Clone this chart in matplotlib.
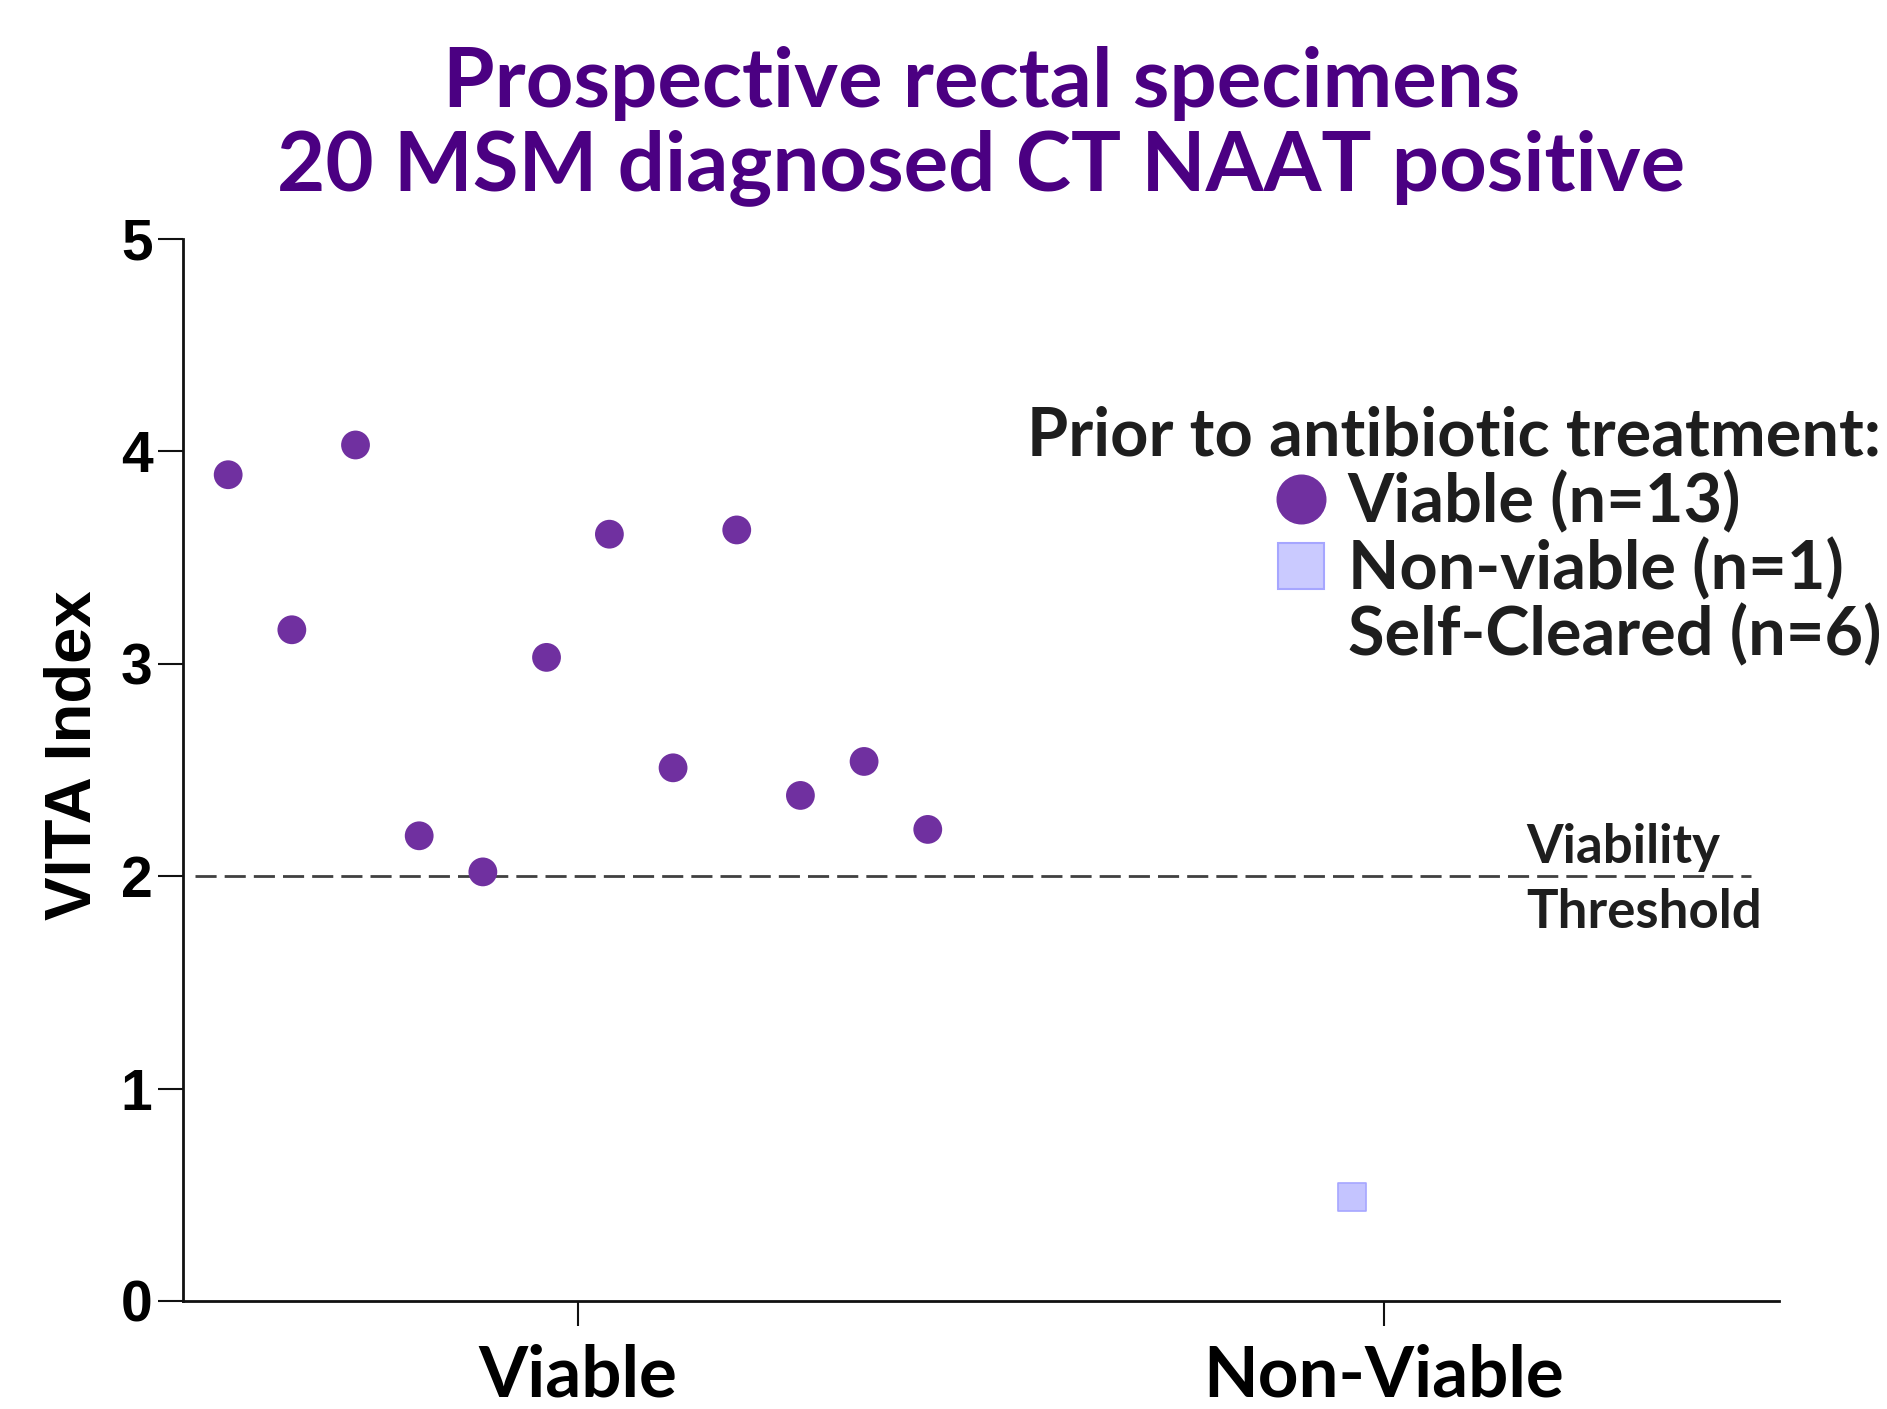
import matplotlib
matplotlib.use('Agg')
import matplotlib.pyplot as plt
from matplotlib.lines import Line2D

# data
viable_x = [-0.434, -0.355, -0.276, -0.197, -0.118, -0.039,
            0.039, 0.118, 0.197, 0.276, 0.355, 0.434]
viable_y = [3.89, 3.16, 4.03, 2.19, 2.02, 3.03,
            3.61, 2.51, 3.63, 2.38, 2.54, 2.22]
nonviable_x = [0.96]
nonviable_y = [0.49]
categories = ['Viable', 'Non-Viable']
yticks = [0, 1, 2, 3, 4, 5]
threshold = 2
legend_labels = ['Viable (n=13)', 'Non-viable (n=1)', 'Self-Cleared (n=6)']

PURPLE = '#7030A0'
LILAC = '#C4C4FF'
LILAC_EDGE = '#A6A6FF'
TITLE = '#4B0082'
INK = '#1E1E1E'
GEO = ['Lato', 'DejaVu Sans']
ARIAL = ['Liberation Sans', 'DejaVu Sans']


def make_plot(out_file):
    fig = plt.figure(figsize=(18.87, 14.09), dpi=100)
    ax = fig.add_axes([0.097, 0.0767, 0.8457, 0.7537])

    ax.scatter(viable_x, viable_y, s=430, marker='o', color=PURPLE,
               edgecolor='none', zorder=3)
    ax.scatter(nonviable_x, nonviable_y, s=420, marker='s', color=LILAC,
               edgecolor=LILAC_EDGE, linewidth=1.2, zorder=3)

    ax.hlines(threshold, -0.475, 1.455, colors='#404040', linewidth=2,
              linestyles=(0, (7.6, 2.9)), zorder=2)
    ax.text(1.177, threshold - 0.02, 'Viability\nThreshold', ha='left', va='center',
            fontsize=38, fontweight='bold', family=GEO, color=INK,
            linespacing=1.4, zorder=4)

    ax.set_xlim(-0.49, 1.49)
    ax.set_ylim(0, 5)
    ax.set_xticks([0, 1])
    ax.set_xticklabels(categories, fontsize=51, fontweight='bold', family=GEO)
    ax.set_yticks(yticks)
    ax.set_yticklabels([str(t) for t in yticks], fontsize=41,
                       fontweight='bold', family=ARIAL)
    ax.tick_params(axis='both', direction='out', length=18, width=1.5,
                   color='#111111')
    ax.tick_params(axis='y', pad=4)
    ax.tick_params(axis='x', pad=13)
    for side in ['top', 'right']:
        ax.spines[side].set_visible(False)
    for side in ['left', 'bottom']:
        ax.spines[side].set_linewidth(2)
        ax.spines[side].set_color('#111111')

    ax.set_ylabel('VITA Index', fontsize=47, fontweight='bold', family=ARIAL)
    ax.yaxis.set_label_coords(-0.05, 0.514)

    fig.text(0.52, 0.967, 'Prospective rectal specimens\n20 MSM diagnosed CT NAAT positive',
             ha='center', va='top', fontsize=60, fontweight='bold',
             family=GEO, color=TITLE, linespacing=1.13)

    handles = [
        Line2D([], [], ls='', marker='o', ms=35, mfc=PURPLE, mec=PURPLE),
        Line2D([], [], ls='', marker='s', ms=33, mfc='#CACAFF', mec=LILAC_EDGE, mew=1.5),
        Line2D([], [], ls='', marker=None),
    ]
    leg = ax.legend(handles, legend_labels, title='Prior to antibiotic treatment:',
                    loc='upper right', bbox_to_anchor=(0.997, 0.712),
                    bbox_transform=fig.transFigure, frameon=False,
                    prop={'family': GEO, 'weight': 'bold', 'size': 48},
                    title_fontproperties={'family': GEO, 'weight': 'bold', 'size': 48},
                    alignment='right', handlelength=0.8, handletextpad=0.3,
                    labelspacing=0.05, borderpad=0, borderaxespad=0)
    for t in leg.get_texts():
        t.set_color(INK)
    leg.get_title().set_color(INK)

    fig.savefig(out_file, dpi=100)


def main():
    make_plot('out.png')


if __name__ == '__main__':
    main()
